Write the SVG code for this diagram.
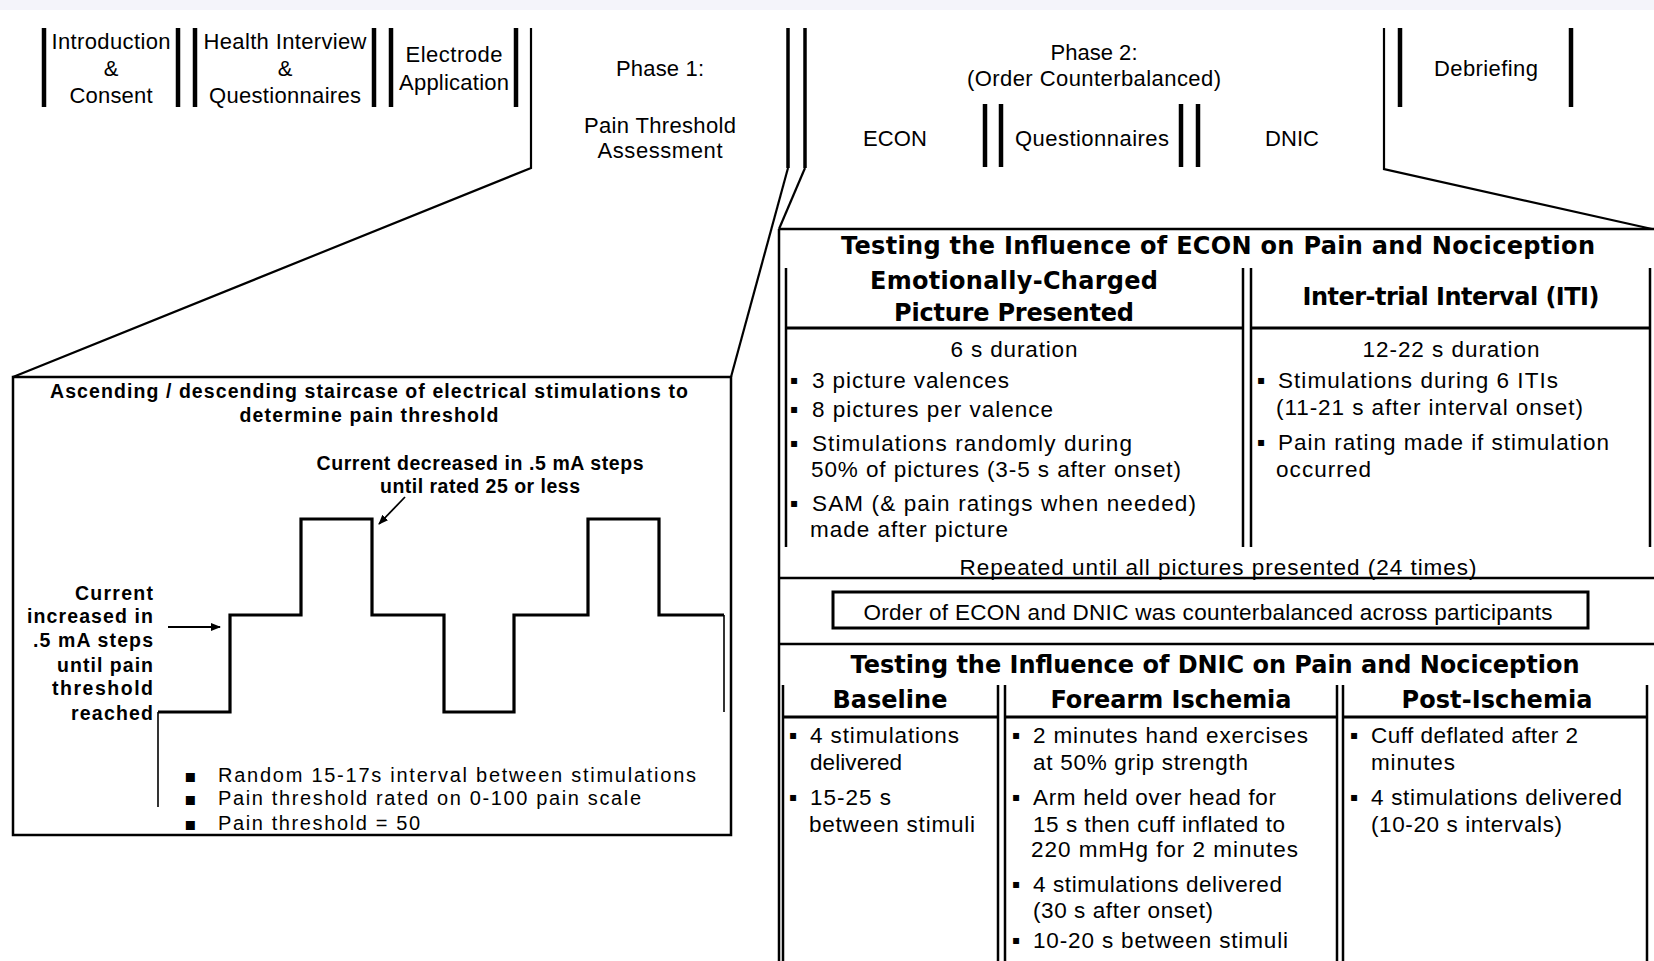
<svg xmlns="http://www.w3.org/2000/svg" width="1654" height="961" viewBox="0 0 1654 961">
<defs>
<style>
.bg{fill:#ffffff}
.band{fill:#f4f4fa}
.bar{stroke:#000;stroke-width:4.5;fill:none}
.dbl{stroke:#000;stroke-width:3.5;fill:none}
.thin{stroke:#000;stroke-width:2.2;fill:none}
.ln{stroke:#000;stroke-width:2.5;fill:none}
.hl{stroke:#000;stroke-width:3;fill:none}
.stair{stroke:#000;stroke-width:3.2;fill:none;stroke-linejoin:miter}
.axis{stroke:#000;stroke-width:1.6;fill:none}
.arw{stroke:#000;stroke-width:1.8;fill:none}
text{fill:#000}
.top{font-family:"Liberation Sans",Arial,sans-serif;font-size:22px;text-anchor:middle}
.lb{font-family:"Liberation Sans",Arial,sans-serif;font-size:19.5px;font-weight:bold}
.lr{font-family:"Liberation Sans",Arial,sans-serif;font-size:20px}
.rt{font-family:"DejaVu Sans",Verdana,sans-serif;font-size:24px;font-weight:bold;text-anchor:middle}
.rb{font-family:"Liberation Sans",Arial,sans-serif;font-size:22.5px}
.c{text-anchor:middle}
.e{text-anchor:end}
.blt{font-family:"DejaVu Sans",sans-serif;font-size:12px}
.bltL{font-family:"DejaVu Sans",sans-serif;font-size:18px}
</style>
<marker id="ah" markerWidth="10" markerHeight="8" refX="9" refY="4" orient="auto" markerUnits="userSpaceOnUse">
<path d="M0,0 L10,4 L0,8 Z" fill="#000"/>
</marker>
</defs>
<rect class="bg" x="0" y="0" width="1654" height="961"/>
<rect class="band" x="0" y="0" width="1654" height="10"/>

<g id="intro">
<line class="bar" x1="44" y1="28" x2="44" y2="107"/>
<line class="bar" x1="178" y1="28" x2="178" y2="107"/>
<text class="top" x="111" y="49" textLength="119">Introduction</text>
<text class="top" x="111" y="76">&amp;</text>
<text class="top" x="111" y="103" textLength="83">Consent</text>
</g>

<g id="health">
<line class="bar" x1="195" y1="28" x2="195" y2="107"/>
<line class="bar" x1="374" y1="28" x2="374" y2="107"/>
<text class="top" x="285" y="49" textLength="163">Health Interview</text>
<text class="top" x="285" y="76">&amp;</text>
<text class="top" x="285" y="103" textLength="152">Questionnaires</text>
</g>

<g id="electrode">
<line class="bar" x1="391" y1="28" x2="391" y2="107"/>
<line class="bar" x1="516" y1="28" x2="516" y2="107"/>
<text class="top" x="454" y="62" textLength="97">Electrode</text>
<text class="top" x="454" y="90" textLength="110">Application</text>
</g>

<g id="phase1">
<text class="top" x="660" y="76" textLength="88">Phase 1:</text>
<text class="top" x="660" y="133" textLength="152">Pain Threshold</text>
<text class="top" x="660" y="158" textLength="125">Assessment</text>
</g>

<g id="phase2">
<line class="dbl" x1="788" y1="28" x2="788" y2="168"/>
<line class="dbl" x1="805" y1="28" x2="805" y2="168"/>
<text class="top" x="1094" y="60" textLength="87">Phase 2:</text>
<text class="top" x="1094" y="86" textLength="254">(Order Counterbalanced)</text>
</g>

<g id="econ">
<text class="top" x="895" y="146" textLength="64">ECON</text>
</g>

<g id="questionnaires">
<line class="bar" x1="985" y1="104" x2="985" y2="167"/>
<line class="bar" x1="1001" y1="104" x2="1001" y2="167"/>
<text class="top" x="1092" y="146" textLength="154">Questionnaires</text>
<line class="bar" x1="1181" y1="104" x2="1181" y2="167"/>
<line class="bar" x1="1198" y1="104" x2="1198" y2="167"/>
</g>

<g id="dnic">
<text class="top" x="1292" y="146" textLength="54">DNIC</text>
</g>

<g id="debriefing">
<line class="bar" x1="1400" y1="28" x2="1400" y2="107"/>
<line class="bar" x1="1571" y1="28" x2="1571" y2="107"/>
<text class="top" x="1486" y="76" textLength="104">Debriefing</text>
</g>

<g id="connectors">
<polyline class="thin" points="531,28 531,168 13,377"/>
<line class="thin" x1="788" y1="168" x2="731" y2="377"/>
<line class="thin" x1="805" y1="168" x2="779" y2="229"/>
<polyline class="thin" points="1384,28 1384,169 1652,229"/>
</g>

<g id="threshold-box">
<rect class="ln" x="13" y="377" width="718" height="458"/>
<text class="lb c" x="369" y="398" textLength="638">Ascending / descending staircase of electrical stimulations to</text>
<text class="lb c" x="369" y="422" textLength="259">determine pain threshold</text>
<text class="lb c" x="480" y="470" textLength="327">Current decreased in .5 mA steps</text>
<text class="lb c" x="480" y="493" textLength="200">until rated 25 or less</text>
<text class="lb e" x="153" y="600" textLength="78">Current</text>
<text class="lb e" x="153" y="623" textLength="126">increased in</text>
<text class="lb e" x="153" y="647" textLength="120">.5 mA steps</text>
<text class="lb e" x="153" y="672" textLength="96">until pain</text>
<text class="lb e" x="153" y="695" textLength="101">threshold</text>
<text class="lb e" x="153" y="720" textLength="82">reached</text>
<path class="stair" d="M158,712 H230 V615 H301 V519 H372 V615 H444 V712 H514 V615 H588 V519 H659 V615 H724"/>
<line class="axis" x1="158" y1="712" x2="158" y2="807"/>
<line class="axis" x1="724" y1="615" x2="724" y2="712"/>
<line class="arw" x1="168" y1="627" x2="220" y2="627" marker-end="url(#ah)"/>
<line class="arw" x1="405" y1="497" x2="379" y2="524" marker-end="url(#ah)"/>
<text class="bltL" x="184" y="782">▪</text>
<text class="bltL" x="184" y="805">▪</text>
<text class="bltL" x="184" y="830">▪</text>
<text class="lr" x="218" y="782" textLength="478">Random 15-17s interval between stimulations</text>
<text class="lr" x="218" y="805" textLength="423">Pain threshold rated on 0-100 pain scale</text>
<text class="lr" x="218" y="830" textLength="202">Pain threshold = 50</text>
</g>

<g id="econ-box">
<line class="ln" x1="779" y1="229" x2="1654" y2="229"/>
<line class="ln" x1="779" y1="229" x2="779" y2="961"/>
<text class="rt" x="1218" y="254" textLength="754">Testing the Influence of ECON on Pain and Nociception</text>
<line class="ln" x1="786" y1="268" x2="786" y2="547"/>
<line class="ln" x1="1243" y1="268" x2="1243" y2="547"/>
<line class="ln" x1="1251" y1="268" x2="1251" y2="547"/>
<line class="ln" x1="1650" y1="268" x2="1650" y2="547"/>
<line class="hl" x1="786" y1="328" x2="1243" y2="328"/>
<line class="hl" x1="1251" y1="328" x2="1650" y2="328"/>
<text class="rt" x="1014" y="289" textLength="288">Emotionally-Charged</text>
<text class="rt" x="1014" y="321" textLength="240">Picture Presented</text>
<text class="rt" x="1451" y="305" textLength="297">Inter-trial Interval (ITI)</text>
<text class="rb c" x="1014" y="357" textLength="127">6 s duration</text>
<text class="blt" x="790" y="384">▪</text>
<text class="blt" x="790" y="413">▪</text>
<text class="blt" x="790" y="447">▪</text>
<text class="blt" x="790" y="507">▪</text>
<text class="rb" x="812" y="388" textLength="197">3 picture valences</text>
<text class="rb" x="812" y="417" textLength="241">8 pictures per valence</text>
<text class="rb" x="812" y="451" textLength="320">Stimulations randomly during</text>
<text class="rb" x="811" y="477" textLength="370">50% of pictures (3-5 s after onset)</text>
<text class="rb" x="812" y="511" textLength="384">SAM (&amp; pain ratings when needed)</text>
<text class="rb" x="810" y="537" textLength="198">made after picture</text>
<text class="rb c" x="1451" y="357" textLength="177">12-22 s duration</text>
<text class="blt" x="1257" y="384">▪</text>
<text class="blt" x="1257" y="446">▪</text>
<text class="rb" x="1278" y="388" textLength="280">Stimulations during 6 ITIs</text>
<text class="rb" x="1276" y="415" textLength="307">(11-21 s after interval onset)</text>
<text class="rb" x="1278" y="450" textLength="331">Pain rating made if stimulation</text>
<text class="rb" x="1276" y="477" textLength="95">occurred</text>
<text class="rb c" x="1218" y="575" textLength="517">Repeated until all pictures presented (24 times)</text>
<line class="ln" x1="779" y1="578" x2="1654" y2="578"/>
</g>

<g id="counterbalance">
<rect x="833" y="592" width="755" height="36" fill="none" stroke="#000" stroke-width="3"/>
<text class="rb c" x="1208" y="620" textLength="689">Order of ECON and DNIC was counterbalanced across participants</text>
<line class="ln" x1="779" y1="644" x2="1654" y2="644"/>
</g>

<g id="dnic-box">
<text class="rt" x="1215" y="673" textLength="729">Testing the Influence of DNIC on Pain and Nociception</text>
<line class="ln" x1="783" y1="685" x2="783" y2="961"/>
<line class="ln" x1="998" y1="685" x2="998" y2="961"/>
<line class="ln" x1="1005" y1="685" x2="1005" y2="961"/>
<line class="ln" x1="1337" y1="685" x2="1337" y2="961"/>
<line class="ln" x1="1343" y1="685" x2="1343" y2="961"/>
<line class="ln" x1="1647" y1="685" x2="1647" y2="961"/>
<line class="hl" x1="783" y1="717" x2="998" y2="717"/>
<line class="hl" x1="1005" y1="717" x2="1337" y2="717"/>
<line class="hl" x1="1343" y1="717" x2="1647" y2="717"/>
<text class="rt" x="890" y="708" textLength="115">Baseline</text>
<text class="rt" x="1171" y="708" textLength="241">Forearm Ischemia</text>
<text class="rt" x="1497" y="708" textLength="191">Post-Ischemia</text>
<text class="blt" x="789" y="739">▪</text>
<text class="blt" x="789" y="801">▪</text>
<text class="rb" x="810" y="743" textLength="149">4 stimulations</text>
<text class="rb" x="810" y="770" textLength="92">delivered</text>
<text class="rb" x="810" y="805" textLength="81">15-25 s</text>
<text class="rb" x="809" y="832" textLength="166">between stimuli</text>
<text class="blt" x="1012" y="739">▪</text>
<text class="blt" x="1012" y="801">▪</text>
<text class="blt" x="1012" y="888">▪</text>
<text class="blt" x="1012" y="944">▪</text>
<text class="rb" x="1033" y="743" textLength="275">2 minutes hand exercises</text>
<text class="rb" x="1033" y="770" textLength="215">at 50% grip strength</text>
<text class="rb" x="1033" y="805" textLength="243">Arm held over head for</text>
<text class="rb" x="1033" y="832" textLength="252">15 s then cuff inflated to</text>
<text class="rb" x="1031" y="857" textLength="267">220 mmHg for 2 minutes</text>
<text class="rb" x="1033" y="892" textLength="249">4 stimulations delivered</text>
<text class="rb" x="1033" y="918" textLength="180">(30 s after onset)</text>
<text class="rb" x="1033" y="948" textLength="255">10-20 s between stimuli</text>
<text class="blt" x="1350" y="739">▪</text>
<text class="blt" x="1350" y="801">▪</text>
<text class="rb" x="1371" y="743" textLength="207">Cuff deflated after 2</text>
<text class="rb" x="1371" y="770" textLength="84">minutes</text>
<text class="rb" x="1371" y="805" textLength="251">4 stimulations delivered</text>
<text class="rb" x="1371" y="832" textLength="191">(10-20 s intervals)</text>
</g>
</svg>
